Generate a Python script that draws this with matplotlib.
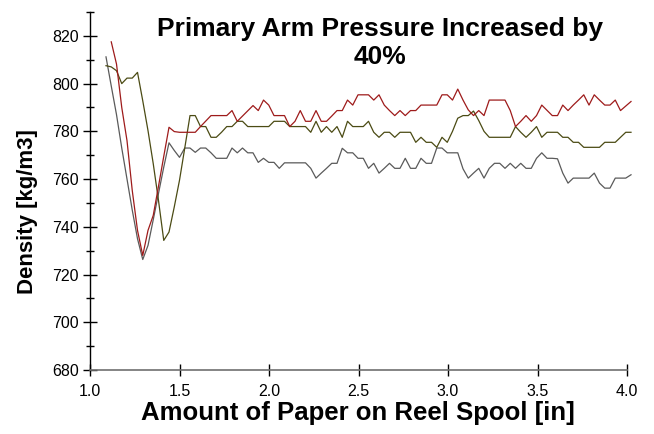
import numpy as np
import matplotlib
matplotlib.use("Agg")
import matplotlib.pyplot as plt
from matplotlib.ticker import MultipleLocator

plt.rcParams['font.family'] = ['Liberation Sans', 'DejaVu Sans']

# sample positions along the reel (in), evenly spaced readings
x_start = 1.0894
x_step = 0.02933
n_points = 101
paper = x_start + x_step * np.arange(n_points)

# density readings [kg/m3]
gray_vals = [811.2, 799, 787, 773, 760, 747, 735, 726.3, 732.2, 743,
             754, 765, 775.2, 772, 769.1, 773, 773, 771.2, 773, 773,
             771, 768.7, 768.7, 768.7, 773, 771, 773, 771, 771, 767,
             768.7, 767, 767, 764.5, 766.8, 766.8, 766.8, 766.8, 766.8, 764.5,
             760.4, 762.5, 764.5, 766.6, 766.6, 772.9, 771, 771, 768.7, 768.7,
             764.5, 766.6, 762.5, 764.5, 766.6, 764.5, 764.5, 768.7, 764.5, 764.5,
             768.7, 766.6, 766.6, 773, 773, 771, 771, 771, 764.3, 760.4,
             762.5, 764.5, 760.4, 764.5, 766.6, 766.6, 764.5, 766.6, 764.5, 766.6,
             764.5, 764.5, 768.7, 771, 768.7, 768.7, 768.5, 762.5, 758.3, 760.4,
             760.4, 760.4, 760.4, 762.5, 758.3, 756.2, 756.2, 760.4, 760.4, 760.4,
             761.8]

# red series starts one reading later
red_vals = [817.5, 808.2, 790, 776.1, 755.2, 738.5, 728, 738.5, 744.8,
            757, 769.5, 781.7, 779.9, 779.6, 779.6, 779.6, 779.6, 782, 784.3,
            786.6, 786.6, 786.6, 786.6, 788.7, 784.2, 786.4, 788.6, 790.8, 788.7,
            793.1, 791, 786.6, 786.6, 786.6, 782, 784.2, 788.7, 784.2, 784.2,
            788.7, 784.2, 784.2, 786.4, 788.7, 788.7, 793.1, 791, 795.3, 795.3,
            795.3, 793.1, 795.3, 791, 788.7, 786.6, 788.7, 786.6, 788.7, 788.7,
            791, 791, 791, 791, 795.3, 795.3, 793.1, 797.7, 793.1, 789,
            786.6, 788.7, 786.6, 793.1, 793.1, 793.1, 793.1, 788.7, 782, 784.2,
            786.6, 784.2, 786.6, 791, 788.8, 786.6, 786.6, 791, 788.7, 791,
            793.1, 795.3, 791, 795.3, 793.1, 791, 791, 793.1, 788.7, 790.6,
            792.5]

olive_vals = [807.5, 807, 805.4, 800, 802.3, 802.3, 804.7, 792.8, 780.3, 766.4,
              751, 734.3, 737.8, 748.3, 759.5, 773, 786.6, 786.6, 782, 782,
              777.5, 777.5, 779.6, 782, 782, 784.2, 784.2, 782, 782, 782,
              782, 782, 784.2, 784.2, 784.2, 782, 782, 782, 782, 779.6,
              784.2, 779.6, 782, 779.6, 782, 777.5, 784.2, 782, 782, 782,
              784.2, 779.6, 777.5, 779.6, 779.6, 777.5, 779.6, 779.6, 779.6, 775.4,
              777.5, 775.4, 775.4, 773.3, 777.5, 775.4, 780, 785.5, 786.6, 786.6,
              788.5, 784.5, 780, 777.5, 777.5, 777.5, 777.5, 777.5, 782, 779.6,
              777.5, 779.6, 782, 777.5, 779.6, 779.6, 779.6, 777.5, 777.5, 775.4,
              775.4, 773.3, 773.3, 773.3, 773.3, 775.4, 775.4, 775.4, 777.5, 779.6,
              779.6]

fig = plt.figure(figsize=(6.54, 4.34), dpi=100)
ax = fig.add_axes([90 / 654, 1 - 370 / 434, 537 / 654, 358 / 434])

ax.plot(paper, gray_vals, color='#5a5a5a', lw=0.9, clip_on=False)
ax.plot(paper, olive_vals, color='#4b4b14', lw=0.9, clip_on=False)
ax.plot(paper[1:], red_vals, color='#9e1b1b', lw=0.9, clip_on=False)

ax.set_xlim(1.0, 4.0)
ax.set_ylim(680, 830)
ax.set_xticks([1.0, 1.5, 2.0, 2.5, 3.0, 3.5, 4.0])
ax.set_xticklabels(['1.0', '1.5', '2.0', '2.5', '3.0', '3.5', '4.0'])
ax.set_yticks([680, 700, 720, 740, 760, 780, 800, 820])
ax.yaxis.set_minor_locator(MultipleLocator(10))

for s in ['top', 'right']:
    ax.spines[s].set_visible(False)
ax.spines['left'].set_linewidth(1.0)
ax.spines['bottom'].set_color('#707070')
ax.spines['bottom'].set_linewidth(1.2)

ax.tick_params(axis='y', which='major', direction='inout', length=10, width=1,
               labelsize=11.5, pad=3)
ax.tick_params(axis='y', which='minor', direction='inout', length=6, width=1)
ax.tick_params(axis='x', which='major', direction='inout', length=8, width=1,
               labelsize=11.5, pad=6)

fig.text(380 / 654, 1 - 17 / 434, 'Primary Arm Pressure Increased by\n40%',
         ha='center', va='top', fontsize=19, fontweight='bold', linespacing=1.2)
fig.text(358 / 654, 1 - 413 / 434, 'Amount of Paper on Reel Spool [in]',
         ha='center', va='center', fontsize=18.5, fontweight='bold')
fig.text(28 / 654, 1 - 212 / 434, 'Density [kg/m3]', rotation=90,
         ha='center', va='center', fontsize=16, fontweight='bold')

fig.savefig('out.png', dpi=100)
